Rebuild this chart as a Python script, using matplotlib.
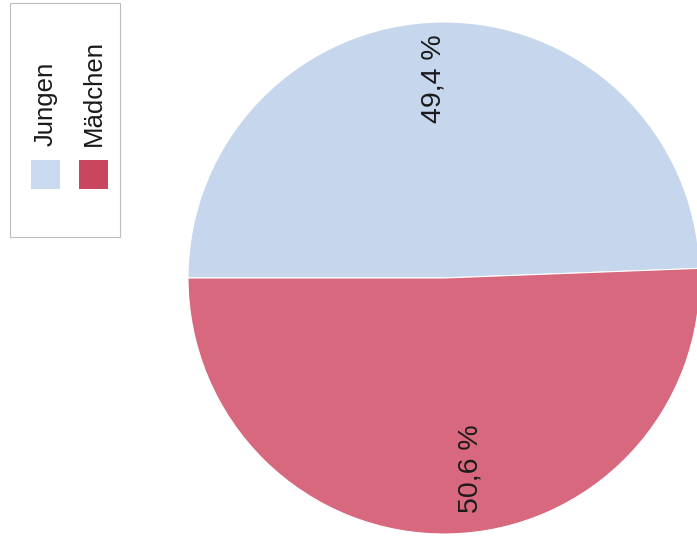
import matplotlib.pyplot as plt
from matplotlib.patches import Rectangle

plt.rcParams['font.family'] = ['Liberation Sans', 'DejaVu Sans']

labels = ['Jungen', 'Mädchen']
shares = [49.4, 50.6]
colors = ['#c6d6ec', '#d8687e']
legend_colors = ['#c9daf0', '#c9465f']

fig = plt.figure(figsize=(6.97, 5.44), dpi=100)

# pie axes, partly running off the right edge
ax = fig.add_axes([188/697, 10/544, 512/697, 512/544])
wedges, texts, autotexts = ax.pie(
    shares, colors=colors, startangle=180, counterclock=False,
    radius=1.0, autopct=lambda p: f'{p:.1f} %'.replace('.', ','),
    pctdistance=0.78, wedgeprops=dict(edgecolor='white', linewidth=0.8),
    textprops=dict(fontsize=20.5, color='#1a1a1a'))
for t in autotexts:
    t.set_rotation(90)
autotexts[0].set_position((-0.04, 0.78))
autotexts[1].set_position((0.105, -0.745))
ax.set_xlim(-1, 1)
ax.set_ylim(-1, 1)
ax.set_aspect('equal')
ax.axis('off')

# rotated legend in the upper left
fig.patches.append(Rectangle((10/697, 1 - 237/544), 110/697, 234/544,
                             transform=fig.transFigure, facecolor='white',
                             edgecolor='#bdbdbd', linewidth=0.8))
for i, (lab, col) in enumerate(zip(labels, legend_colors)):
    x0 = 31 + i * 48
    fig.patches.append(Rectangle((x0/697, 1 - 189/544), 29/697, 29/544,
                                 transform=fig.transFigure, facecolor=col,
                                 edgecolor='none'))
    fig.text((x0 + 15)/697, 1 - 146/544, lab, rotation=90, fontsize=18.5,
             ha='center', va='bottom', color='#1a1a1a')

fig.savefig('out.png', dpi=100)
